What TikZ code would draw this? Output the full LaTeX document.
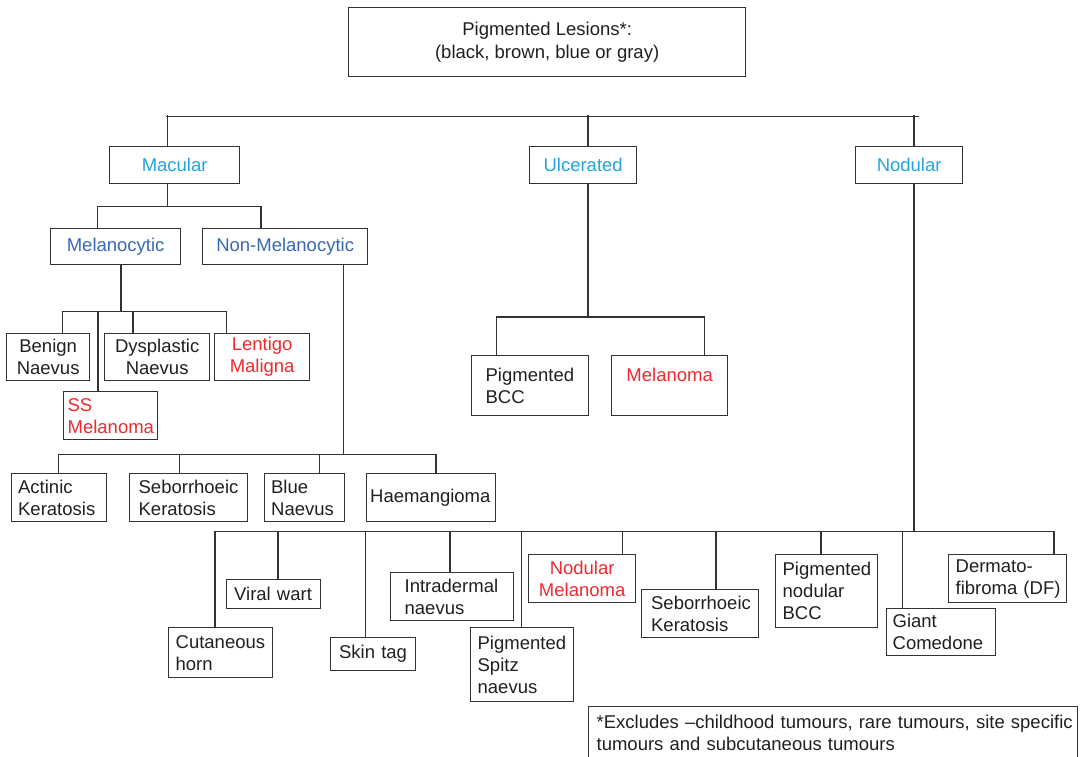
\documentclass[tikz,border=0pt]{standalone}
\usepackage{fontspec}
\setmainfont{Liberation Sans}
\definecolor{cyanc}{HTML}{23A4DC}
\definecolor{bluec}{HTML}{3A68B4}
\definecolor{redc}{HTML}{EE2A30}
\definecolor{textc}{HTML}{231F20}
\definecolor{linec}{HTML}{333333}
\begin{document}
\begin{tikzpicture}[x=1pt,y=-1pt,
  conn/.style={draw=linec, line width=1.2pt, line cap=rect},
  thin/.style={draw=linec, line width=0.9pt},
  box/.style={draw=linec, line width=1.3pt, inner ysep=0pt, anchor=north west,
    font=\fontsize{18.5}{22}\selectfont, text=textc},
  cb/.style n args={2}{box, align=center, inner xsep=0pt, minimum width=#1pt, minimum height=#2pt},
  lb/.style n args={4}{box, align=left, inner xsep=#3pt, text width=#4pt, minimum width=#1pt, minimum height=#2pt},
  lvl1/.style={text=cyanc},
  lvl2/.style={text=bluec},
  mel/.style={text=redc}]
\useasboundingbox (0,0) rectangle (1080,757);
\fill[white] (0,0) rectangle (1080,757);
\clip (0,0) rectangle (1080,757);

% nodes
\node[cb={397}{69}, font=\fontsize{18.5}{23.5}\selectfont, yshift=-1.5pt] (title) at (348,5.5) {Pigmented Lesions*:\\(black, brown, blue or gray)};
\node[cb={130}{37}, lvl1] (macular) at (109,146) {Macular};
\node[cb={107}{37}, lvl1] (ulcer) at (529,146) {Ulcerated};
\node[cb={107}{37}, lvl1] (nodular) at (855,146) {Nodular};
\node[cb={130}{36}, lvl2] (melano) at (50,228) {Melanocytic};
\node[cb={165}{36}, lvl2] (nonmel) at (202,228) {Non-Melanocytic};
\node[cb={83}{47}] (benign) at (6,333) {Benign\\Naevus};
\node[cb={105}{47}] (dysp) at (104,333) {Dysplastic\\Naevus};
\node[cb={95}{47}, mel] (lentigo) at (214,333) {Lentigo\\Maligna};
\node[lb={94}{48}{4}{86}, mel] (ss) at (63,391) {SS\\Melanoma};
\node[lb={95}{48}{6.5}{82}] (actinic) at (11,473) {Actinic\\Keratosis};
\node[lb={118}{48}{9}{100}] (sebor1) at (129,473) {Seborrhoeic\\Keratosis};
\node[lb={80}{48}{6.5}{67}] (blue) at (264,473) {Blue\\Naevus};
\node[lb={129}{48}{3.5}{122}] (haem) at (366,473) {Haemangioma};
\node[lb={117}{60}{14}{89}] (pbcc) at (471,355) {\mbox{Pigmented}\\BCC};
\node[cb={116}{60}, mel] (melan2) at (611,355) {Melanoma\\\mbox{}};
\node[lb={104}{50}{7}{90}] (cut) at (168,627) {Cutaneous\\horn};
\node[lb={94}{29}{7.5}{79}] (viral) at (226,579) {\mbox{Viral wart}};
\node[lb={85}{33}{8.5}{68}] (skin) at (330,637) {\mbox{Skin tag}};
\node[lb={123}{48}{14}{95}] (intra) at (390,572) {\mbox{Intradermal}\\naevus};
\node[lb={103}{74}{7}{89}] (spitz) at (470,627) {\mbox{Pigmented}\\Spitz\\naevus};
\node[cb={107}{48}, mel] (nodmel) at (528,554) {Nodular\\Melanoma};
\node[lb={117}{48}{9.5}{98}] (sebor2) at (641,589) {\mbox{Seborrhoeic}\\Keratosis};
\node[lb={102}{73}{7}{88}] (pnbcc) at (775,554) {\mbox{Pigmented}\\nodular\\BCC};
\node[lb={109}{47}{6}{97}] (giant) at (886,608) {Giant\\\mbox{Comedone}};
\node[lb={118}{48}{7}{104}] (df) at (948,554) {Dermato-\\\mbox{fibroma (DF)}};
\node[box, align=left, inner xsep=8pt, inner ysep=8pt, text width=473pt] (foot) at (588,706)
  {\mbox{*Excludes –childhood tumours, rare tumours, site specific}\\\mbox{tumours and subcutaneous tumours}\rule[-30pt]{0pt}{30pt}};

% top line
\coordinate (tl) at (166,116);
\coordinate (tr) at (919,116);
\draw[thin] (tl) -- (tr);
\coordinate (s-mac) at ([xshift=58.7pt]macular.north west);
\coordinate (s-ulc) at ([xshift=59pt]ulcer.north west);
\coordinate (s-nod) at ([xshift=59pt]nodular.north west);
\draw[conn] (s-mac) -- (s-mac |- tl);
\draw[conn] (s-ulc) -- (s-ulc |- tl);
\draw[conn] (s-nod) -- (s-nod |- tr);

% macular
\draw[conn] ([xshift=58.7pt]macular.south west) -- ++(0,22.3) coordinate (bMac);
\coordinate (c-melano) at ([xshift=47.7pt]melano.north west);
\coordinate (c-nonmel) at ([xshift=59pt]nonmel.north west);
\draw[conn] (c-melano) |- (bMac) -| (c-nonmel);

% melanocytic
\draw[conn] ([xshift=71pt]melano.south west) -- ++(0,46) coordinate (bMel);
\coordinate (c-benign) at ([xshift=56.7pt]benign.north west);
\coordinate (c-ss) at ([xshift=35pt]ss.north west);
\coordinate (c-dysp) at ([xshift=29pt]dysp.north west);
\coordinate (c-lentigo) at ([xshift=12.3pt]lentigo.north west);
\draw[conn] (c-benign) |- (c-lentigo |- bMel) -- (c-lentigo);
\draw[conn] (c-ss) -- (c-ss |- bMel);
\draw[conn] (c-dysp) -- (c-dysp |- bMel);

% non-melanocytic
\draw[conn] ([xshift=141.7pt]nonmel.south west) -- ++(0,189.3) coordinate (bNon);
\coordinate (c-actinic) at ([xshift=47.7pt]actinic.north west);
\coordinate (c-sebor1) at ([xshift=50.7pt]sebor1.north west);
\coordinate (c-blue) at ([xshift=55.3pt]blue.north west);
\coordinate (c-haem) at ([xshift=70pt]haem.north west);
\draw[conn] (c-actinic) |- (c-haem |- bNon) -- (c-haem);
\draw[conn] (c-sebor1) -- (c-sebor1 |- bNon);
\draw[conn] (c-blue) -- (c-blue |- bNon);

% ulcerated
\draw[conn] ([xshift=59pt]ulcer.south west) -- ++(0,132.7) coordinate (bUlc);
\coordinate (c-pbcc) at ([xshift=25.3pt]pbcc.north west);
\coordinate (c-melan2) at ([xshift=93.2pt]melan2.north west);
\draw[conn] (c-pbcc) |- (bUlc) -| (c-melan2);

% nodular
\draw[conn] ([xshift=59pt]nodular.south west) -- ++(0,347.5) coordinate (bNod);
\coordinate (c-cut) at ([xshift=47pt]cut.north west);
\coordinate (c-skin) at ([xshift=35.7pt]skin.north west);
\coordinate (c-intra) at ([xshift=60pt]intra.north west);
\coordinate (c-spitz) at ([xshift=51.3pt]spitz.north west);
\coordinate (c-nodmel) at ([xshift=94.8pt]nodmel.north west);
\coordinate (c-sebor2) at ([xshift=75pt]sebor2.north west);
\coordinate (c-pnbcc) at ([xshift=46pt]pnbcc.north west);
\coordinate (c-giant) at ([xshift=16.3pt]giant.north west);
\coordinate (c-df) at ([xshift=106pt]df.north west);
\draw[conn] (c-cut) |- (c-df |- bNod) -- (c-df);
\foreach \c in {skin,intra,spitz,nodmel,sebor2,pnbcc,giant}
  \draw[conn] (c-\c) -- (c-\c |- bNod);
\draw[conn] ([xshift=52pt]viral.north west) -- ++(0,-46);
\end{tikzpicture}
\end{document}
